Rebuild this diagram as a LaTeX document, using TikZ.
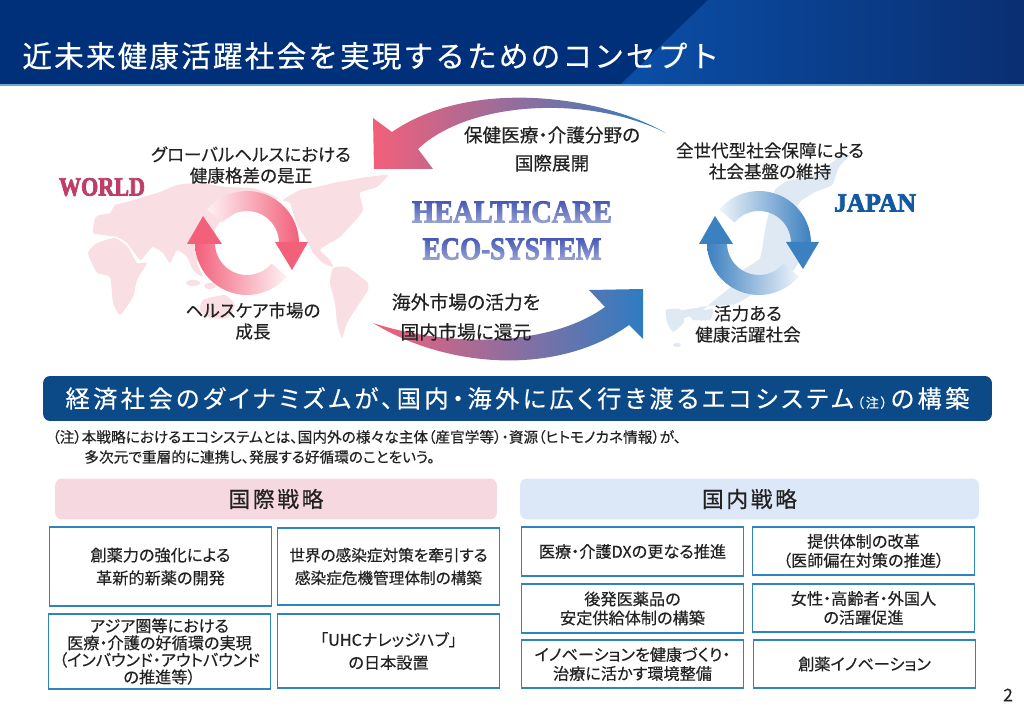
\documentclass[tikz,border=0pt]{standalone}
\usepackage{fontspec}
\setmainfont{Noto Sans CJK JP}[RawFeature=+palt,FakeBold=0.35]
\newfontfamily\titlefont{Noto Sans CJK JP}[LetterSpace=7,FakeBold=0.35]
\newfontfamily\bannerfont{Noto Sans CJK JP}[LetterSpace=14,RawFeature=+palt,FakeBold=0.35]
\newfontfamily\barfont{Noto Sans CJK JP}[LetterSpace=12,FakeBold=0.5]
\newfontfamily\logofont{Liberation Serif}[UprightFont=* Bold,FakeBold=3]
\usetikzlibrary{fadings}
\definecolor{headnavy}{HTML}{00307A}
\definecolor{headlight}{HTML}{0A4FA8}
\definecolor{headdark}{HTML}{0A2F72}
\definecolor{bannerblue}{HTML}{0C4A87}
\definecolor{boxline}{HTML}{2F83BE}
\definecolor{barpink}{HTML}{F6D9E0}
\definecolor{barblue}{HTML}{DCE8F8}
\definecolor{mappink}{HTML}{F9DFE3}
\definecolor{mapblue}{HTML}{DFE9F4}
\definecolor{ringpink}{HTML}{F2607A}
\definecolor{ringblue}{HTML}{3B80C0}
\definecolor{bigblue}{HTML}{2E7CC2}
\definecolor{midpurple}{HTML}{8C3F8E}
\definecolor{inktext}{HTML}{222222}
\definecolor{logoviolet}{HTML}{4658B4}
\definecolor{logorose}{HTML}{BE3E68}
\definecolor{logoblue}{HTML}{14589F}
\tikzfading[name=fadelogo, top color=transparent!100, bottom color=transparent!55]
\tikzset{
  labeltext/.style={text=inktext, align=center, inner sep=0pt,
    font=\fontsize{10}{12}\selectfont},
  stratbox/.style={draw=boxline, line width=0.85pt, fill=white, text=inktext,
    align=center, inner sep=0pt, minimum width=4.44cm,
    font=\fontsize{9.2}{10.8}\selectfont},
  bartext/.style={text=inktext, inner sep=0pt, font=\barfont\fontsize{12.4}{14}\selectfont},
  logotext/.style={inner sep=0pt, font=\logofont\fontsize{15}{18}\selectfont},
  notetext/.style={anchor=west, inner sep=0pt, text=inktext, font=\fontsize{8.35}{10}\selectfont}
}
\begin{document}
\begin{tikzpicture}[x=0.02cm, y=-0.02cm]
  \useasboundingbox (0,0) rectangle (1024,709);

  % header band
  \fill[headnavy] (0,0) rectangle (1024,85);
  \shade[left color=headlight, right color=headdark] (620,85) -- (708,0) -- (1024,0) -- (1024,85) -- cycle;
  \fill[boxline!70!white] (0,84.5) rectangle (1024,86);
  \node[text=white, anchor=west, inner sep=0pt, font=\titlefont\fontsize{16.9}{18}\selectfont] (title) at (22,56)
    {近未来健康活躍社会を実現するためのコンセプト};

  % world map
  \fill[mappink] plot[smooth cycle,tension=0.3] coordinates
    {(95,218) (100,215) (110,213) (115,205) (127,202) (143,197) (160,192) (177,185) (200,183)
     (227,187) (253,188) (267,193) (277,198) (272,205) (263,207) (253,203) (240,210) (230,217)
     (220,222) (215,230) (217,240) (210,250) (200,255) (197,263) (203,277) (193,270) (187,257)
     (177,250) (170,263) (163,253) (153,247) (147,253) (140,260) (127,243) (117,237) (103,235) (93,233)};
  \fill[mappink] plot[smooth cycle,tension=0.3] coordinates
    {(88,253) (97,243) (115,238) (128,247) (137,263) (147,263) (137,280) (133,297) (120,315)
     (113,303) (110,277) (97,273)};
  \fill[mappink] plot[smooth cycle,tension=0.3] coordinates
    {(283,200) (300,190) (317,187) (333,183) (350,180) (367,177) (388,175) (377,187) (360,193)
     (363,210) (353,223) (340,237) (330,243) (320,250) (330,260) (333,267) (323,263) (313,253)
     (307,240) (298,227) (293,213) (290,203)};
  \fill[mappink] plot[smooth cycle,tension=0.3] coordinates
    {(333,268) (347,267) (367,282) (368,290) (357,307) (347,323) (342,338) (337,323) (335,303) (330,283)};
  \fill[mappink] plot[smooth cycle,tension=0.3] coordinates
    {(203,300) (225,295) (235,305) (228,318) (210,318) (200,310)};
  \fill[mappink] (193,283) ellipse (7 and 3);
  \fill[mappink] (210,286) ellipse (6 and 3);

  % japan map
  \fill[mapblue] plot[smooth cycle,tension=0.3] coordinates
    {(842,155) (815,175) (787,181) (774,192) (797,202) (815,192) (832,185) (839,167) (849,156)};
  \fill[mapblue] plot[smooth cycle,tension=0.3] coordinates
    {(802,198) (789,220) (793,247) (799,262) (782,283) (755,293) (735,304) (707,306) (683,310)
     (666,310) (677,320) (700,312) (717,298) (737,282) (743,270) (760,258) (765,230) (770,210) (783,195)};
  \fill[mapblue] plot[smooth cycle,tension=0.3] coordinates
    {(666,310) (680,309) (684,322) (673,332) (667,322)};
  \fill[mapblue] plot[smooth cycle,tension=0.3] coordinates
    {(690,313) (713,309) (710,320) (693,320)};
  \fill[mapblue] (677,345) ellipse (4 and 2);

  % big arrows between the maps
  \shade[left color=ringpink, middle color=midpurple, right color=bigblue]
    (666,133) .. controls (600,95) and (470,78) .. (392,132)
    -- (373,118) -- (374,169) -- (433,169) -- (418,149)
    .. controls (470,100) and (590,95) .. (666,133) -- cycle;
  \shade[left color=ringpink, middle color=midpurple, right color=bigblue]
    (373,323) .. controls (450,370) and (560,375) .. (629,325)
    -- (643,339) -- (643,289) -- (589,290) -- (605,307)
    .. controls (545,350) and (440,345) .. (373,323) -- cycle;

  % pink ring
  \shade[left color=ringpink!8, middle color=ringpink!70, right color=ringpink]
    (247,243) ++(-140:52) arc (-140:0:52) -- ++(-20,0) arc (0:-140:32) -- cycle;
  \shade[left color=ringpink, middle color=ringpink!80, right color=ringpink!8]
    (247,243) ++(40:52) arc (40:180:52) -- ++(20,0) arc (180:40:32) -- cycle;
  \fill[ringpink] (275,242) -- (308,242) -- (292,270) -- cycle;
  \fill[ringpink] (187,244) -- (222,244) -- (203,216) -- cycle;

  % blue ring
  \shade[left color=ringblue!8, middle color=ringblue!70, right color=ringblue]
    (759,243) ++(-140:52) arc (-140:0:52) -- ++(-20,0) arc (0:-140:32) -- cycle;
  \shade[left color=ringblue, middle color=ringblue!80, right color=ringblue!8]
    (759,243) ++(40:52) arc (40:180:52) -- ++(20,0) arc (180:40:32) -- cycle;
  \fill[ringblue] (786,242) -- (819,242) -- (803,269) -- cycle;
  \fill[ringblue] (699,244) -- (733,244) -- (715,216) -- cycle;

  % logo words, a white fade over each gives the gradient
  \node[logotext, text=logorose] (world) at (102,187) {\scalebox{0.84}[1]{WORLD}};
  \node[logotext, text=logoblue] (japan) at (875,203) {\scalebox{0.97}[1]{JAPAN}};
  \node[logotext, text=logoviolet, font=\logofont\fontsize{18}{20}\selectfont] (healthcare) at (512,212) {\scalebox{0.9}[1]{HEALTHCARE}};
  \node[logotext, text=logoviolet, font=\logofont\fontsize{18}{20}\selectfont] (ecosystem) at (512,249) {\scalebox{0.855}[1]{ECO-SYSTEM}};
  \fill[white, path fading=fadelogo] (healthcare.north west) rectangle (healthcare.south east);
  \fill[white, path fading=fadelogo] (ecosystem.north west) rectangle (ecosystem.south east);

  % labels round the arrows
  \node[labeltext] (globalgap) at (251,165) {グローバルヘルスにおける\\健康格差の是正};
  \node[labeltext] (marketgrow) at (253,321) {ヘルスケア市場の\\成長};
  \node[labeltext, font=\fontsize{10.6}{16}\selectfont] (overseas) at (552,149) {保健医療・介護分野の\\国際展開};
  \node[labeltext, font=\fontsize{10.7}{17}\selectfont] (vitality) at (466,317) {海外市場の活力を\\国内市場に還元};
  \node[labeltext] (allgen) at (770,161) {全世代型社会保障による\\社会基盤の維持};
  \node[labeltext] (activesoc) at (748,324) {活力ある\\健康活躍社会};

  % banner and note
  \node[fill=bannerblue, rounded corners=4pt, text=white, minimum width=18.98cm, minimum height=0.9cm, inner sep=0pt,
    font=\bannerfont\fontsize{13.8}{16}\selectfont] (banner) at (517.5,398.5)
    {経済社会のダイナミズムが、国内・海外に広く行き渡るエコシステム\kern2pt{\fontsize{7.5}{9}\selectfont （注）}\kern2pt の構築};
  \node[notetext] (noteone) at (52,437)
    {（注）本戦略におけるエコシステムとは、国内外の様々な主体（産官学等）・資源（ヒトモノカネ情報）が、};
  \node[notetext] (notetwo) at (84,457)
    {多次元で重層的に連携し、発展する好循環のことをいう。};

  % heading bars
  \node[fill=barpink, rounded corners=4pt, minimum width=8.84cm, minimum height=0.82cm, bartext] (intlbar) at (276,499) {\raisebox{-1.7pt}{国際戦略}};
  \node[fill=barblue, rounded corners=4pt, minimum width=9.18cm, minimum height=0.82cm, bartext] (homebar) at (749.5,499) {\raisebox{-1.7pt}{国内戦略}};

  % left boxes
  \node[stratbox, minimum height=1.58cm] (drugpower) at (160.5,566.5) {創薬力の強化による\\[2.2pt]革新的新薬の開発};
  \node[stratbox, minimum height=1.54cm, font=\fontsize{8.9}{10.8}\selectfont] (infection) at (388.5,566.5) {世界の感染症対策を牽引する\\[2.2pt]感染症危機管理体制の構築};
  \node[stratbox, minimum height=1.5cm, font=\fontsize{9.2}{9.7}\selectfont] (asiacycle) at (159.5,651.5) {アジア圏等における\\医療・介護の好循環の実現\\（インバウンド・アウトバウンド\\の推進等）};
  \node[stratbox, minimum height=1.48cm] (uhchub) at (388.5,651) {「UHCナレッジハブ」\\[2.2pt]の日本設置};

  % right boxes
  \node[stratbox, minimum height=0.98cm] (dxstep) at (632.5,551.5) {医療・介護DXの更なる推進};
  \node[stratbox, minimum height=0.96cm] (supplysys) at (863.5,551) {提供体制の改革\\（医師偏在対策の推進）};
  \node[stratbox, minimum height=0.98cm] (generic) at (632.5,608.5) {後発医薬品の\\安定供給体制の構築};
  \node[stratbox, minimum height=0.96cm] (diverse) at (863.5,608) {女性・高齢者・外国人\\の活躍促進};
  \node[stratbox, minimum height=0.96cm] (innovcare) at (632.5,664) {イノベーションを健康づくり・\\治療に活かす環境整備};
  \node[stratbox, minimum height=0.96cm] (druginnov) at (864.5,664) {創薬イノベーション};

  % page number
  \node[inner sep=0pt, text=inktext, font=\fontsize{10}{12}\selectfont] (pagenum) at (1008,695) {2};
\end{tikzpicture}
\end{document}
